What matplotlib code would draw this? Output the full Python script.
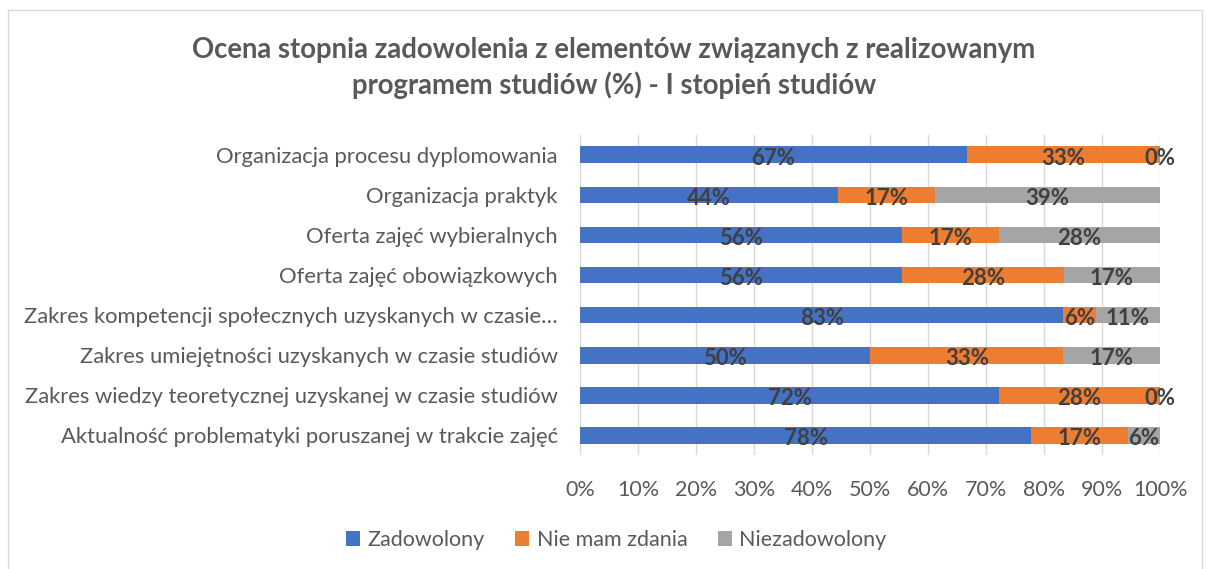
import matplotlib.pyplot as plt
import numpy as np

plt.rcParams['font.family'] = ['Lato', 'DejaVu Sans']

categories = [
    "Organizacja procesu dyplomowania",
    "Organizacja praktyk",
    "Oferta zajęć wybieralnych",
    "Oferta zajęć obowiązkowych",
    "Zakres kompetencji społecznych uzyskanych w czasie…",
    "Zakres umiejętności uzyskanych w czasie studiów",
    "Zakres wiedzy teoretycznej uzyskanej w czasie studiów",
    "Aktualność problematyki poruszanej w trakcie zajęć",
]
zadowolony = [66.67, 44.44, 55.56, 55.56, 83.33, 50.00, 72.22, 77.78]
nie_mam_zdania = [33.33, 16.67, 16.67, 27.78, 5.56, 33.33, 27.78, 16.67]
niezadowolony = [0.00, 38.89, 27.78, 16.67, 11.11, 16.67, 0.00, 5.56]

series = [("Zadowolony", zadowolony, "#4472C4"),
          ("Nie mam zdania", nie_mam_zdania, "#ED7D31"),
          ("Niezadowolony", niezadowolony, "#A5A5A5")]

fig = plt.figure(figsize=(12.06, 5.69), dpi=100)
ax = fig.add_axes([0.481, 0.200, 0.481, 0.563])

# ramka wykresu
fig.patches.append(plt.Rectangle((0.007, -0.01), 0.99, 0.992, transform=fig.transFigure,
                                 fill=False, edgecolor='#D9D9D9', lw=1))

y = np.arange(len(categories))
left = np.zeros(len(categories))
for name, vals, col in series:
    vals = np.array(vals)
    ax.barh(y, vals, left=left, height=0.42, color=col, label=name, zorder=2)
    for yi, l, v in zip(y, left, vals):
        ax.text(l + v / 2, yi + 0.08, f"{v:.0f}%", ha='center', va='center',
                fontsize=16, fontweight='bold', color='#404040', zorder=3)
    left += vals

ax.set_xlim(0, 100)
ax.set_ylim(len(categories) - 0.5, -0.5)
ax.set_yticks(y)
ax.set_yticklabels(categories, fontsize=15.8, color='#595959')
ax.set_xticks(np.arange(0, 101, 10))
ax.set_xticklabels([f"{t}%" for t in range(0, 101, 10)], fontsize=15.5, color='#595959')
ax.tick_params(length=0, pad=16, axis='y')
ax.tick_params(length=0, pad=18, axis='x')
ax.grid(axis='x', color='#D9D9D9', lw=1, zorder=0)
for s in ax.spines.values():
    s.set_visible(False)

fig.text(0.509, 0.912, "Ocena stopnia zadowolenia z elementów związanych z realizowanym",
         ha='center', va='center', fontsize=19.8, fontweight='bold', color='#595959')
fig.text(0.509, 0.850, "programem studiów (%) - I stopień studiów",
         ha='center', va='center', fontsize=19.8, fontweight='bold', color='#595959')

fig.legend(loc='center', bbox_to_anchor=(0.511, 0.051), ncol=3, frameon=False,
           fontsize=15.5, handlelength=0.65, handleheight=0.65, columnspacing=1.4,
           handletextpad=0.35, labelcolor='#595959')

fig.savefig("out.png", dpi=100)
